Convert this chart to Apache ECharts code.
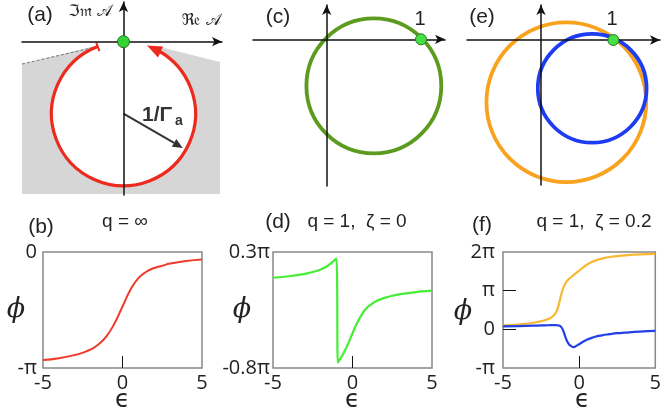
<!DOCTYPE html>
<html><head><meta charset="utf-8">
<script src="https://cdn.jsdelivr.net/npm/echarts@6/dist/echarts.min.js"></script>
<style>html,body{margin:0;padding:0;background:#fff}#c{width:664px;height:419px}</style>
</head><body><div id="c"></div>
<script>
// ================= DATA =================
// (b) q = infinity : phase (units of pi) vs epsilon
const epsB = [-5,-4,-3,-2.5,-2,-1.5,-1,-0.5,0,0.5,1,1.5,2,2.5,3,4,5];
const phiB = [-0.932,-0.915,-0.888,-0.868,-0.84,-0.795,-0.725,-0.615,-0.47,-0.325,-0.225,-0.17,-0.138,-0.118,-0.1,-0.078,-0.065];
// (d) q = 1, zeta = 0
const epsD = [-5,-4,-3,-2.5,-2,-1.6,-1.3,-1.02,-0.92,-0.8,-0.6,-0.4,-0.2,0,0.25,0.5,0.75,1,1.5,2,2.5,3,4,5];
const phiD = [0.055,0.07,0.092,0.11,0.135,0.165,0.2,0.238,-0.75,-0.72,-0.67,-0.61,-0.545,-0.47,-0.385,-0.315,-0.255,-0.215,-0.165,-0.135,-0.115,-0.1,-0.08,-0.067];
// (f) q = 1, zeta = 0.2 : orange and blue
const epsF1 = [-5,-4,-3,-2.5,-2,-1.75,-1.5,-1.35,-1.2,-1.05,-0.9,-0.7,-0.5,-0.25,0,0.5,1,1.5,2,2.5,3,4,5];
const phiF1 = [0.10,0.125,0.17,0.21,0.27,0.33,0.45,0.62,0.86,1.06,1.19,1.29,1.36,1.44,1.52,1.67,1.77,1.83,1.87,1.895,1.915,1.94,1.95];
const epsF2 = [-5,-4,-3,-2.5,-2,-1.75,-1.5,-1.35,-1.2,-1.05,-0.9,-0.7,-0.5,-0.35,-0.2,0,0.5,1,1.5,2,2.5,3,4,5];
const phiF2 = [0.076,0.085,0.095,0.1,0.105,0.108,0.108,0.1,0.07,-0.03,-0.2,-0.37,-0.44,-0.458,-0.43,-0.385,-0.27,-0.2,-0.155,-0.125,-0.1,-0.085,-0.06,-0.042];
// tick values
const xLabelVals = [-5,0,5];
const xTickVals = [0];
const yLabelsB = [-1,0];
const yLabelsD = [-0.8,0.3];
const yLabelsF = [-1,0,1,2];
const yTicksF = [0,1];
// complex-plane panels: circles [Re centre, Im centre, radius]
const circleA = [0,-1,1];
const arcAngles = [111,61];          // arc start / end angle (deg), anticlockwise
const arrowAngles = [59,71];         // arrow head base / tip angle (deg)
const radiusArrow = [-30,0.95];      // direction (deg), length (fraction of radius)
const shadeA = [[-1.41,-0.31],[-0.396,-0.06],[0.507,-0.074],[1.34,-0.282],[1.34,-2.115],[-1.41,-2.115]];
const dashA = [[-1.41,-0.31],[-0.37,-0.07]];
const circleC = [0.5,-0.494,0.715];
const circleE1 = [0.35,-0.86,1.105];
const circleE2 = [0.708,-0.668,0.752];
const originPt = [[0,0]];
const unitPt = [[1,0]];

// ================= CHART =================
const SANS = "'Liberation Sans', Arial, sans-serif";
const TICKF = "'Open Sans', 'DejaVu Sans', sans-serif";
const chart = echarts.init(document.getElementById('c'), null, {renderer:'canvas', width:664, height:419});
const box = {show:true, borderColor:'#888', borderWidth:1.5, backgroundColor:'#fff'};
const grids = [
  {left:22, top:2, width:200, height:193},
  {left:253, top:5, width:192, height:181},
  {left:467, top:5, width:193, height:180},
  Object.assign({left:43, top:252, width:159, height:116}, box),
  Object.assign({left:273, top:252, width:159, height:116}, box),
  Object.assign({left:503, top:252, width:159, height:116}, box)
];
function planeAxis(i, min, max){
  return {gridIndex:i, type:'value', min:min, max:max, z:5,
    axisLine:{show:true, onZero:true, symbol:['none','arrow'], symbolSize:[7,10], lineStyle:{color:'#111', width:1.5}},
    axisTick:{show:false}, axisLabel:{show:false}, splitLine:{show:false}};
}
function piFmt(v){
  const r = Math.round(v*10)/10;
  if (r===0) return '0';
  if (r===1) return 'π';
  if (r===-1) return '-π';
  return r+'π';
}
function phaseX(i){
  return {gridIndex:i, type:'value', min:-5, max:5, position:'bottom',
    axisLine:{show:false, onZero:false}, splitLine:{show:false},
    axisTick:{show:true, inside:true, length:12, customValues:xTickVals, lineStyle:{color:'#111', width:1}},
    axisLabel:{show:true, customValues:xLabelVals, margin:5, fontSize:20, fontFamily:TICKF, color:'#222'}};
}
function phaseY(i, min, max, labels, ticks, margin){
  return {gridIndex:i, type:'value', min:min, max:max, position:'left',
    axisLine:{show:false, onZero:false}, splitLine:{show:false},
    axisTick: ticks ? {show:true, inside:true, length:13, customValues:ticks, lineStyle:{color:'#111', width:1}} : {show:false},
    axisLabel:{show:true, customValues:labels, formatter:piFmt, margin:margin, fontSize:20, fontFamily:TICKF, color:'#222'}};
}
const xAxes = [
  planeAxis(0,-1.4097,1.3681), planeAxis(1,-0.7815,1.2545), planeAxis(2,-1.0235,1.6459),
  phaseX(3), phaseX(4), phaseX(5)
];
const yAxes = [
  planeAxis(0,-2.1292,0.5514), planeAxis(1,-1.5557,0.3637), planeAxis(2,-2.0055,0.4841),
  phaseY(3,-1,0,yLabelsB,null,6), phaseY(4,-0.8,0.3,yLabelsD,null,3), phaseY(5,-1,2,yLabelsF,yTicksF,8)
];
function circleSeries(gi, c, color, width, fill, z){
  return {type:'custom', xAxisIndex:gi, yAxisIndex:gi, z:z, silent:true, data:[c],
    renderItem:function(params, api){
      const p = api.coord([api.value(0), api.value(1)]);
      const r = api.size([api.value(2), 0])[0];
      return {type:'circle', shape:{cx:p[0], cy:p[1], r:r}, style:{fill:fill||'none', stroke:color, lineWidth:width}};
    }};
}
function pol(c, r, deg){ const a = deg*Math.PI/180; return [c[0]+r*Math.cos(a), c[1]-r*Math.sin(a)]; }
const zip = (xs, ys) => xs.map((x,i)=>[x, ys[i]]);
function lineSeries(gi, xs, ys, color, w, sm){
  return {type:'line', xAxisIndex:gi, yAxisIndex:gi, data:zip(xs,ys), symbol:'none', smooth:sm,
    lineStyle:{color:color, width:w}, silent:true, z:3};
}
const RED = '#ec2a1e';
const series = [
  {type:'custom', xAxisIndex:0, yAxisIndex:0, z:1, silent:true, data:[[0,0]],
    renderItem:function(p, api){
      return {type:'group', children:[
        {type:'polygon', shape:{points:shadeA.map(q=>api.coord(q))}, style:{fill:'#d6d6d6'}},
        {type:'line', shape:{x1:api.coord(dashA[0])[0], y1:api.coord(dashA[0])[1], x2:api.coord(dashA[1])[0], y2:api.coord(dashA[1])[1]},
          style:{stroke:'#777', lineWidth:1, lineDash:[3,2]}}
      ]};
    }},
  circleSeries(0, circleA, 'none', 0, '#ffffff', 2),
  {type:'custom', xAxisIndex:0, yAxisIndex:0, z:3, silent:true, data:[circleA],
    renderItem:function(params, api){
      const c = api.coord([api.value(0), api.value(1)]);
      const R = api.size([api.value(2),0])[0];
      const tip = pol(c, R, arrowAngles[1]);
      const base = pol(c, R, arrowAngles[0]);
      let dx = tip[0]-base[0], dy = tip[1]-base[1]; const L = Math.hypot(dx,dy); dx/=L; dy/=L;
      const nx = -dy, ny = dx, hw = 6;
      const e1 = pol(c, R-5, arcAngles[0]), e2 = pol(c, R+4, arcAngles[0]);
      const rt = pol(c, R*radiusArrow[1], radiusArrow[0]);
      let ux = rt[0]-c[0], uy = rt[1]-c[1]; const U = Math.hypot(ux,uy); ux/=U; uy/=U;
      const rb = [rt[0]-ux*10, rt[1]-uy*10];
      return {type:'group', children:[
        {type:'arc', shape:{cx:c[0], cy:c[1], r:R, startAngle:-arcAngles[0]*Math.PI/180, endAngle:-arcAngles[1]*Math.PI/180, clockwise:false},
          style:{stroke:RED, lineWidth:3.2, fill:null}},
        {type:'polygon', shape:{points:[tip,[base[0]+nx*hw, base[1]+ny*hw],[base[0]-nx*hw, base[1]-ny*hw]]}, style:{fill:RED}},
        {type:'line', shape:{x1:e1[0], y1:e1[1], x2:e2[0], y2:e2[1]}, style:{stroke:RED, lineWidth:2}},
        {type:'line', shape:{x1:c[0], y1:c[1], x2:rb[0], y2:rb[1]}, style:{stroke:'#333', lineWidth:2}},
        {type:'polygon', shape:{points:[rt,[rb[0]-uy*4.5, rb[1]+ux*4.5],[rb[0]+uy*4.5, rb[1]-ux*4.5]]}, style:{fill:'#333'}}
      ]};
    }},
  circleSeries(1, circleC, '#5b9b1d', 3.8, null, 3),
  circleSeries(2, circleE1, '#f8a21e', 3.8, null, 3),
  circleSeries(2, circleE2, '#1e3cf2', 3.8, null, 4),
  {type:'scatter', xAxisIndex:0, yAxisIndex:0, data:originPt, symbolSize:12, z:10, silent:true,
    itemStyle:{color:'#35d435', borderColor:'#1f6f1f', borderWidth:1, opacity:1}},
  {type:'scatter', xAxisIndex:1, yAxisIndex:1, data:unitPt, symbolSize:11, z:10, silent:true,
    itemStyle:{color:'#44e044', borderColor:'#2a7a2a', borderWidth:1, opacity:1}},
  {type:'scatter', xAxisIndex:2, yAxisIndex:2, data:unitPt, symbolSize:11, z:10, silent:true,
    itemStyle:{color:'#44e044', borderColor:'#2a7a2a', borderWidth:1, opacity:1}},
  lineSeries(3, epsB, phiB, '#f03a2a', 2, 0.5),
  lineSeries(4, epsD, phiD, '#45ee35', 2.2, 0.3),
  lineSeries(5, epsF1, phiF1, '#f9b733', 2.2, 0.5),
  lineSeries(5, epsF2, phiF2, '#2240e8', 2.2, 0.5)
];
function T(text, x, y, size, extra){
  return {type:'text', x:x, y:y, z:100, silent:true,
    style:Object.assign({text:text, fill:'#222', font:size+'px '+SANS, align:'center', verticalAlign:'middle'}, extra||{})};
}
const SERIF = "'DejaVu Serif', 'DejaVu Sans', serif";
const graphics = [
  T('(a)', 40, 15, 21),
  T('ℑ𝔪 𝒜', 90, 12, 16, {font:'16px '+SERIF}),
  T('ℜ𝔢 𝒜', 201, 21, 16, {font:'16px '+SERIF}),
  T('1/Γ', 142, 115, 21, {font:'bold 21px '+SANS, align:'left', fill:'#333'}),
  T('a', 175, 121, 14, {font:'bold 14px '+SANS, align:'left', fill:'#333'}),
  T('(c)', 278, 17, 21),
  T('1', 420, 19, 20),
  T('(e)', 482, 17, 21),
  T('1', 612, 19, 20),
  T('(b)', 41, 227, 21),
  T('q = ∞', 125, 222, 19),
  T('(d)', 278, 222, 21),
  T('q = 1,  ζ = 0', 357, 222, 19),
  T('(f)', 482, 225, 21),
  T('q = 1,  ζ = 0.2', 594, 222, 19),
  T('ϕ', 16, 310, 27, {font:'italic 27px '+SERIF}),
  T('ϕ', 242, 310, 27, {font:'italic 27px '+SERIF}),
  T('ϕ', 463, 312, 27, {font:'italic 27px '+SERIF}),
  T('ϵ', 122.5, 400, 24, {font:'24px '+TICKF}),
  T('ϵ', 352.5, 400, 24, {font:'24px '+TICKF}),
  T('ϵ', 582.5, 400, 24, {font:'24px '+TICKF})
];
chart.setOption({
  animation:false,
  backgroundColor:'#fff',
  grid:grids, xAxis:xAxes, yAxis:yAxes, series:series, graphic:graphics
});
</script></body></html>
